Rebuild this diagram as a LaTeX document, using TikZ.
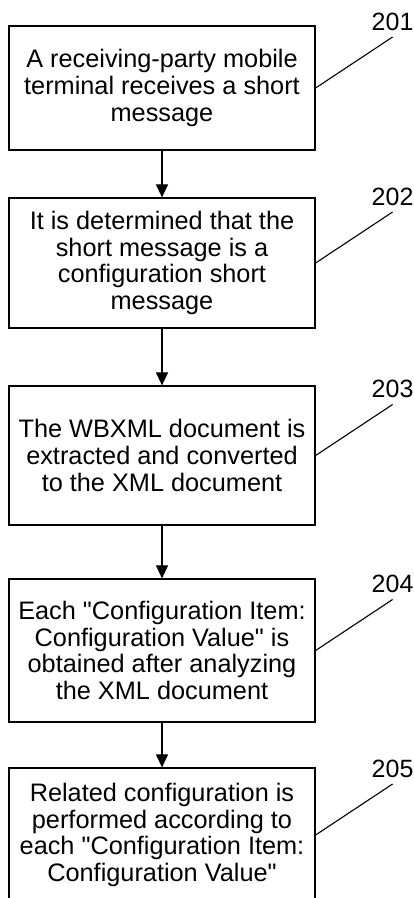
\documentclass[tikz,border=0pt]{standalone}
\usepackage{fontspec}
\setmainfont{Liberation Sans}
\usetikzlibrary{arrows.meta,calc}
\begin{document}
\begin{tikzpicture}[x=1pt,y=-1pt,
  stepbox/.style={draw=black,line width=1.2pt,minimum width=306pt,inner sep=0pt,
    align=center,font=\fontsize{25.3}{26.7}\selectfont},
  flow/.style={line width=1.1pt,-{Triangle[width=12pt,length=13pt]}},
  leader/.style={line width=1.1pt},
  reflabel/.style={font=\fontsize{25}{26.7}\selectfont,anchor=base,inner sep=0pt}]
\useasboundingbox (0,0) rectangle (414,898);
\node[stepbox,minimum height=124pt] (b1) at (162,88) {A receiving-party mobile\\terminal receives a short\\message};
\node[stepbox,minimum height=130pt] (b2) at (162,263) {It is determined that the\\short message is a\\configuration short\\message};
\node[stepbox,minimum height=139pt] (b3) at (162,455.5) {The WBXML document is\\extracted and converted\\to the XML document};
\node[stepbox,minimum height=143pt] (b4) at (162,650.5) {Each \textquotedbl Configuration Item:\\Configuration Value\textquotedbl\ is\\obtained after analyzing\\the XML document};
\node[stepbox,minimum height=134pt] (b5) at (162,835) {Related configuration is\\performed according to\\each \textquotedbl Configuration Item:\\Configuration Value\textquotedbl};
\draw[flow] (b1.south) -- (b2.north);
\draw[flow] (b2.south) -- (b3.north);
\draw[flow] (b3.south) -- (b4.north);
\draw[flow] (b4.south) -- (b5.north);
\foreach \i/\n in {1/201,2/202,3/203,4/204,5/205}{
  \coordinate (t\i) at ($(b\i.east)+(77,-51)$);
  \draw[leader] (b\i.east) -- (t\i);
  \node[reflabel] (l\i) at ($(t\i)+(0,-7)$) {\n};
}
\end{tikzpicture}
\end{document}
